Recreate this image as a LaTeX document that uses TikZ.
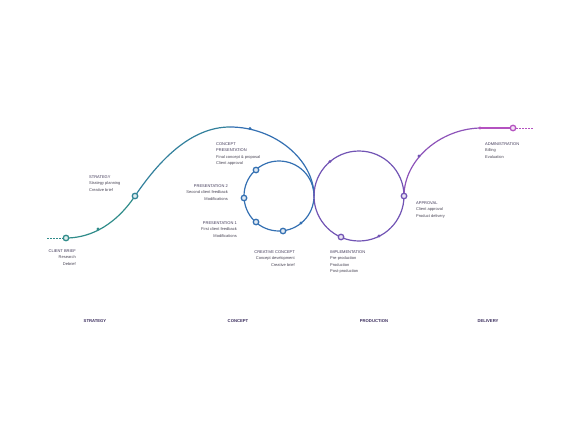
\documentclass[tikz,border=0pt]{standalone}
\usepackage{fontspec}
\setmainfont{Liberation Sans}
\usepackage{xcolor}
\usetikzlibrary{arrows.meta}
\definecolor{tealc}{RGB}{48,140,138}
\definecolor{bluec}{RGB}{52,112,178}
\definecolor{purplec}{RGB}{114,84,180}
\definecolor{magentac}{RGB}{180,82,192}
\definecolor{textc}{RGB}{72,68,84}
\definecolor{headc}{RGB}{60,52,84}
\definecolor{phasec}{RGB}{58,44,92}

\begin{document}
\begin{tikzpicture}[x=1pt,y=-1pt,
	ring/.style={circle,draw=#1,fill=#1!15!white,line width=1.3pt,inner sep=0pt,minimum size=5.5pt},
	dotmark/.style={circle,fill=#1,inner sep=0pt,minimum size=3.4pt},
	stage/.style={font=\fontsize{4}{6.3}\selectfont,text=textc,inner sep=0pt},
	phase/.style={font=\fontsize{4.2}{5}\selectfont\bfseries,text=phasec,inner sep=0pt}]
	\useasboundingbox (0,0) rectangle (577,433);

	\coordinate (startdash) at (47,238);
	\coordinate (brief) at (66,238);
	\coordinate (m1) at (98,229);
	\coordinate (strategy) at (135,196);
	\coordinate (peak) at (230,127);
	\coordinate (m2) at (250,128.5);
	\coordinate (touch) at (314,196);
	\coordinate (lc) at (279,196);
	\coordinate (rc) at (359,196);
	\coordinate (pres0) at (256,170);
	\coordinate (pres2) at (244,198);
	\coordinate (pres1) at (256,222);
	\coordinate (creative) at (283,231);
	\coordinate (m3) at (301,223);
	\coordinate (impl) at (341,237);
	\coordinate (m4) at (379,236);
	\coordinate (approval) at (404,196);
	\coordinate (m5) at (330,161.5);
	\coordinate (m6) at (419,156);
	\coordinate (bend) at (480,128);
	\coordinate (admin) at (513,128);
	\coordinate (enddash) at (533,128);

	\draw[tealc,line width=0.8pt,dash pattern=on 1.5pt off 1.5pt] (startdash) -- (brief);
	\draw[tealc,line width=1.2pt] (brief) .. controls (85,238) and (112,230) .. (strategy);
	\draw[tealc!55!bluec,line width=1.2pt] (strategy) .. controls (158,162) and (190,127) .. (peak);
	\draw[bluec,line width=1.2pt] (peak) .. controls (275,127) and (314,160) .. (touch);
	\draw[bluec,line width=1.2pt] (lc) circle[radius=35];
	\draw[purplec,line width=1.2pt] (rc) circle[radius=45];
	\draw[purplec!60!magentac,line width=1.2pt] (approval) .. controls (404,160) and (440,129) .. (bend);
	\draw[magentac,line width=1.2pt] (bend) -- (admin);
	\draw[magentac,line width=0.8pt,dash pattern=on 1.5pt off 1.5pt] (admin) -- (enddash);

	\node[ring=tealc] (n-brief) at (brief){};
	\node[ring=tealc!70!bluec] (n-strategy) at (strategy){};
	\node[ring=bluec] (n-pres0) at (pres0){};
	\node[ring=bluec] (n-pres2) at (pres2){};
	\node[ring=bluec] (n-pres1) at (pres1){};
	\node[ring=bluec] (n-creative) at (creative){};
	\node[ring=purplec] (n-impl) at (impl){};
	\node[ring=purplec] (n-approval) at (approval){};
	\node[ring=magentac] (n-admin) at (admin){};
	\foreach \m/\c in {m1/tealc,m2/bluec,m3/bluec,m4/purplec,m5/purplec,m6/purplec,bend/magentac}{
		\node[dotmark=\c] (d-\m) at (\m){};
	}

	\node[stage,anchor=north east,align=right] (t-brief) at (76,249.5){{\color{headc}CLIENT BRIEF}\\Research\\Debrief};
	\node[stage,anchor=north west,align=left] (t-strategy) at (89,175.5){{\color{headc}STRATEGY}\\Strategy planning\\Creative brief};
	\node[stage,anchor=north west,align=left] (t-pres0) at (216,142.5){{\color{headc}CONCEPT}\\{\color{headc}PRESENTATION}\\Final concept \& proposal\\Client approval};
	\node[stage,anchor=north east,align=right] (t-pres2) at (228,184.5){{\color{headc}PRESENTATION 2}\\Second client feedback\\Modifications};
	\node[stage,anchor=north east,align=right] (t-pres1) at (237,221.5){{\color{headc}PRESENTATION 1}\\First client feedback\\Modifications};
	\node[stage,anchor=north east,align=right] (t-creative) at (295,250.5){{\color{headc}CREATIVE CONCEPT}\\Concept development\\Creative brief};
	\node[stage,anchor=north west,align=left] (t-impl) at (330,250.5){{\color{headc}IMPLEMENTATION}\\Pre-production\\Production\\Post-production};
	\node[stage,anchor=north west,align=left] (t-approval) at (416,201.5){{\color{headc}APPROVAL}\\Client approval\\Product delivery};
	\node[stage,anchor=north west,align=left] (t-admin) at (485,142.5){{\color{headc}ADMINISTRATION}\\Billing\\Evaluation};

	\node[phase] (p-strategy) at (95,321){STRATEGY};
	\node[phase] (p-concept) at (238,321){CONCEPT};
	\node[phase] (p-production) at (374,321){PRODUCTION};
	\node[phase] (p-delivery) at (488,321){DELIVERY};
\end{tikzpicture}
\end{document}
